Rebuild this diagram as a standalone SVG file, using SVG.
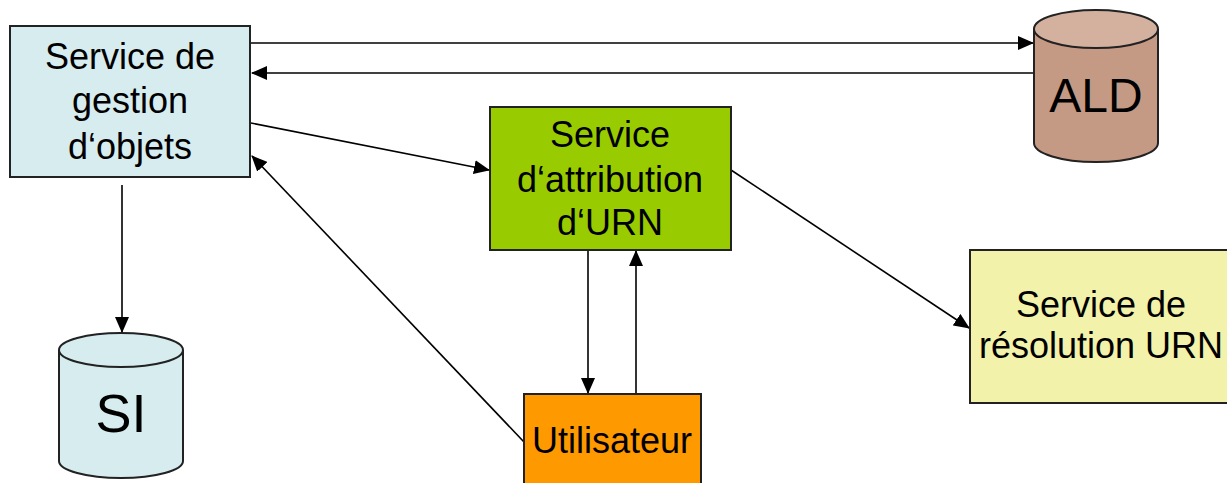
<svg xmlns="http://www.w3.org/2000/svg" width="1227" height="483" viewBox="0 0 1227 483">
<defs>
<style>
.box{stroke:#222;stroke-width:2}
.t{font-family:"Liberation Sans",Arial,sans-serif;font-size:36px;fill:#000;text-anchor:middle}
.c{stroke:#000;stroke-width:1.6;fill:none;marker-end:url(#ah)}
</style>
<marker id="ah" markerUnits="userSpaceOnUse" markerWidth="16" markerHeight="14" refX="15" refY="7" orient="auto">
<path d="M0,0 L16,7 L0,14 z" fill="#000"/>
</marker>
</defs>
<rect width="1227" height="483" fill="#fff"/>
<g id="connectors">
<line class="c" x1="251" y1="43" x2="1033" y2="43"/>
<line class="c" x1="1034" y1="73" x2="252" y2="73"/>
<line class="c" x1="251" y1="123" x2="489" y2="170"/>
<line class="c" x1="524" y1="442" x2="252" y2="156"/>
<line class="c" x1="731" y1="170" x2="969" y2="328"/>
<line class="c" x1="122" y1="185" x2="122" y2="332"/>
<line class="c" x1="588" y1="251" x2="588" y2="393"/>
<line class="c" x1="636" y1="394" x2="636" y2="251"/>
</g>
<g id="gestion">
<rect class="box" x="10" y="26" width="240" height="151" fill="#d6ecef"/>
<text class="t" x="130" y="69">Service de</text>
<text class="t" x="130" y="113">gestion</text>
<text class="t" x="130" y="159">d‘objets</text>
</g>
<g id="ald">
<path class="box" d="M1034,29 L1034,143 A62,19 0 0 0 1158,143 L1158,29" fill="#c49a84"/>
<ellipse class="box" cx="1096" cy="29" rx="62" ry="19" fill="#d3b19e"/>
<text class="t" x="1096" y="112" style="font-size:48px">ALD</text>
</g>
<g id="attribution">
<rect class="box" x="490" y="107" width="241" height="143" fill="#99cc00"/>
<text class="t" x="610" y="147">Service</text>
<text class="t" x="610" y="192">d‘attribution</text>
<text class="t" x="610" y="235">d‘URN</text>
</g>
<g id="si">
<path class="box" d="M59,350 L59,461 A62,17 0 0 0 183,461 L183,350" fill="#d6ecef"/>
<ellipse class="box" cx="121" cy="350" rx="62" ry="17" fill="#d6ecef"/>
<text class="t" x="121" y="432" style="font-size:54px">SI</text>
</g>
<g id="utilisateur">
<rect class="box" x="524" y="394" width="177" height="100" fill="#ff9900"/>
<text class="t" x="612" y="453">Utilisateur</text>
</g>
<g id="resolution">
<rect class="box" x="970" y="250" width="262" height="153" fill="#f2f2aa"/>
<text class="t" x="1101" y="317">Service de</text>
<text class="t" x="1101" y="358">résolution URN</text>
</g>
</svg>
